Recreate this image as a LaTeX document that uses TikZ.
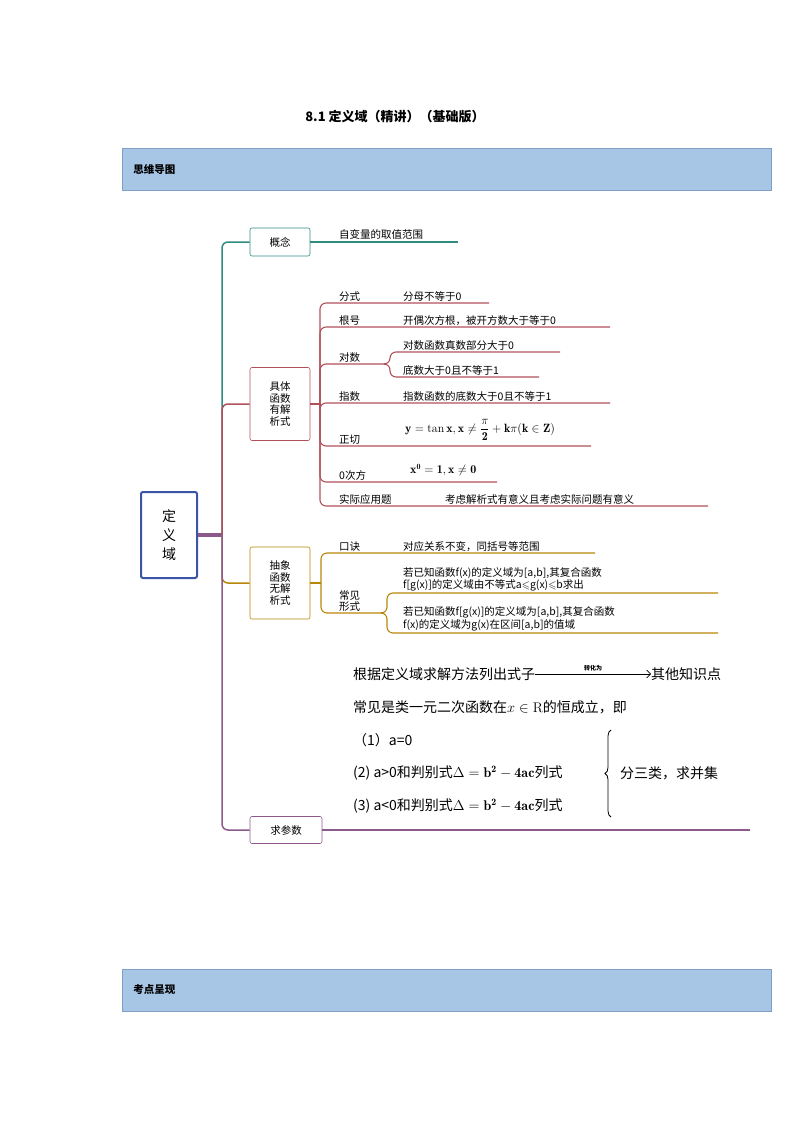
\documentclass[tikz,border=0pt]{standalone}
\usepackage{fontspec}
\usepackage{amssymb,amsmath}
\newfontfamily\cjk{Noto Sans CJK SC}
\usetikzlibrary{positioning,decorations.pathreplacing,arrows.meta}
\definecolor{tealb}{HTML}{2E8B80}
\definecolor{redb}{HTML}{B0505A}
\definecolor{goldb}{HTML}{B8860B}
\definecolor{purpb}{HTML}{8B5A8B}
\definecolor{barfill}{HTML}{A7C5E5}
\definecolor{barline}{HTML}{7F9FC4}
\definecolor{rootblue}{HTML}{3A55A8}
\begin{document}
\begin{tikzpicture}[x=1pt,y=-1pt,font=\cjk\fontsize{10.5}{12}\selectfont,
  box/.style={draw,rounded corners=2pt,semithick,align=center,inner sep=2pt,minimum width=60},
  bar/.style={draw=barline,fill=barfill,minimum width=649,minimum height=42,inner sep=0pt},
  lab/.style={anchor=south west,inner sep=1pt,align=left},
  txt/.style={anchor=west,inner sep=0pt,font=\cjk\fontsize{14}{16}\selectfont},
  br/.style={line width=1.1pt,rounded corners=6pt}]
\useasboundingbox (0,0) rectangle (794,1123);
% headers %
\node[font=\cjk\bfseries\fontsize{13}{15}\selectfont] (title) at (395,117) {8.1 定义域（精讲）（基础版）};
\node[bar] (h1) at (446.5,169) {};
\node[anchor=west,font=\cjk\bfseries\fontsize{10.5}{12}\selectfont] (h1t) at ([xshift=8pt]h1.west) {思维导图};
\node[bar] (h2) at (446.5,990) {};
\node[anchor=west,font=\cjk\bfseries\fontsize{10.5}{12}\selectfont] (h2t) at ([xshift=8pt]h2.west) {考点呈现};
% main nodes %
\node[box,draw=rootblue,line width=2pt,minimum width=56,minimum height=86,font=\cjk\fontsize{14}{19}\selectfont] (root) at (169,535) {定\\义\\域};
\coordinate (tr) at (222,535);
\node[box,draw=tealb,minimum height=28] (gn) at (280,242) {概念};
\node[box,draw=redb,minimum height=73,font=\cjk\fontsize{10.5}{11.5}\selectfont] (ju) at (280,404) {具体\\函数\\有解\\析式};
\node[box,draw=goldb,minimum height=72,font=\cjk\fontsize{10.5}{11.5}\selectfont] (cx) at (280,583) {抽象\\函数\\无解\\析式};
\node[box,draw=purpb,minimum width=72,minimum height=27] (qc) at (286,830) {求参数};
% trunk %
\draw[purpb,line width=4pt] (root.east) -- (tr);
\draw[tealb,br,line width=1.5pt] (tr) |- (gn.west);
\draw[redb,br,line width=1.5pt] (tr) |- (ju.west);
\draw[goldb,br,line width=1.5pt] (tr) |- (cx.west);
\draw[purpb,br,line width=1.5pt] (tr) |- (qc.west);
% concept %
\coordinate (gn1) at (458,242);
\draw[tealb,line width=1.1pt] (gn.east) -- (gn1);
\node[lab] (gnv) at (338,241) {自变量的取值范围};
% concrete functions %
\coordinate (jt) at (320,404);
\draw[redb,line width=1.1pt] (ju.east) -- (jt);
\coordinate (fs1) at (489,303);
\coordinate (gh1) at (610,327);
\coordinate (ds1) at (385,364);
\coordinate (ds2) at (560,352);
\coordinate (ds3) at (539,377);
\coordinate (zs1) at (610,403);
\coordinate (zq1) at (591,446);
\coordinate (lc1) at (497,482);
\coordinate (sj1) at (708,506);
\foreach \e in {fs1,gh1,ds1,zs1,zq1,lc1,sj1}
  \draw[redb,br] (jt) |- (\e);
\draw[redb,br] (ds1) -- ++(5,0) |- (ds2);
\draw[redb,br] (ds1) -- ++(5,0) |- (ds3);
\node[lab] (fsl) at (338,303) {分式};
\node[lab] (fsv) at (402,303) {分母不等于0};
\node[lab] (ghl) at (338,327) {根号};
\node[lab] (ghv) at (402,327) {开偶次方根，被开方数大于等于0};
\node[lab] (dsl) at (338,364) {对数};
\node[lab] (dsv1) at (402,352) {对数函数真数部分大于0};
\node[lab] (dsv2) at (402,377) {底数大于0且不等于1};
\node[lab] (zsl) at (338,403) {指数};
\node[lab] (zsv) at (402,403) {指数函数的底数大于0且不等于1};
\node[lab] (zql) at (338,446) {正切};
\node[lab,font=\fontsize{12}{14}\selectfont] (zqv) at (404,442) {$\mathbf{y=\tan x, x\neq\dfrac{\pi}{2}+k\pi(k\in Z)}$};
\node[lab,font=\fontsize{12}{14}\selectfont] (lcv) at (409,477) {$\mathbf{x^0=1, x\neq 0}$};
\node[lab] (lcl) at (338,482) {0次方};
\node[lab] (sjl) at (338,506) {实际应用题};
\node[lab] (sjv) at (444,506) {考虑解析式有意义且考虑实际问题有意义};
% abstract functions %
\coordinate (ct) at (321,583);
\draw[goldb,line width=1.1pt] (cx.east) -- (ct);
\coordinate (kj1) at (595,553);
\coordinate (cj1) at (384,613);
\coordinate (cj2) at (718,593);
\coordinate (cj3) at (718,633);
\draw[goldb,br] (ct) |- (kj1);
\draw[goldb,br] (ct) |- (cj1);
\draw[goldb,br] (cj1) -- ++(3,0) |- (cj2);
\draw[goldb,br] (cj1) -- ++(3,0) |- (cj3);
\node[lab] (kjl) at (338,553) {口诀};
\node[lab] (kjv) at (402,553) {对应关系不变，同括号等范围};
\node[lab,font=\cjk\fontsize{10.5}{11.5}\selectfont] (cjl) at (338,613) {常见\\形式};
\node[lab,font=\cjk\fontsize{10.5}{11.5}\selectfont] (cjv1) at (402,592) {若已知函数f(x)的定义域为[a,b],其复合函数\\f[g(x)]的定义域由不等式a$\leqslant$g(x)$\leqslant$b求出};
\node[lab,font=\cjk\fontsize{10.5}{11.5}\selectfont] (cjv2) at (402,632) {若已知函数f[g(x)]的定义域为[a,b],其复合函数\\f(x)的定义域为g(x)在区间[a,b]的值域};
% parameters %
\coordinate (qc1) at (750,830);
\draw[purpb,line width=1.1pt] (qc.east) -- (qc1);
\node[txt] (p1) at (353,674) {根据定义域求解方法列出式子};
\node[txt] (p1b) at (651,674) {其他知识点};
\draw[-{Straight Barb[length=4pt]},semithick] (p1.east) -- node[above=-1pt,font=\cjk\bfseries\fontsize{6}{7}\selectfont] {转化为} (p1b.west);
\node[txt] (p2) at (353,707) {常见是类一元二次函数在$x\in\mathrm{R}$的恒成立，即};
\node[txt] (p3) at (353,740) {（1）a=0};
\node[txt] (p4) at (353,773) {(2) a>0和判别式$\Delta=\mathbf{b^2-4ac}$列式};
\node[txt] (p5) at (353,806) {(3) a<0和判别式$\Delta=\mathbf{b^2-4ac}$列式};
\draw[decorate,decoration={brace,amplitude=6pt},thick] (611,817) -- (611,730);
\node[txt] (p6) at (620,773) {分三类，求并集};
\end{tikzpicture}
\end{document}
